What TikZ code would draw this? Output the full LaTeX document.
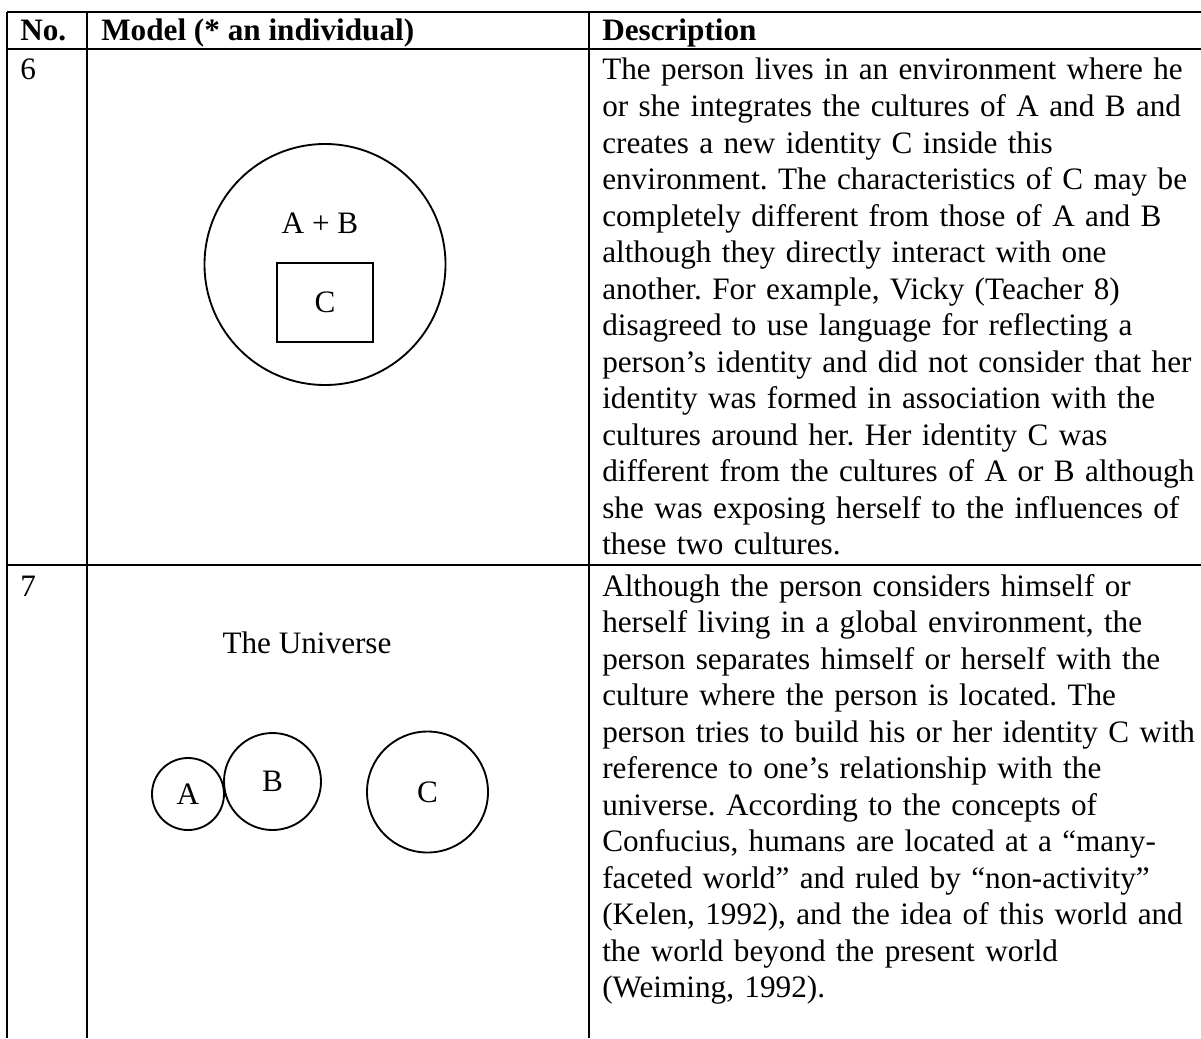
\documentclass[tikz,border=0pt]{standalone}
\usepackage{fontspec}
\setmainfont{Liberation Serif}

\newcommand{\bodyfont}{\fontsize{23.4pt}{27.4pt}\selectfont}

\tikzset{
  rule/.style={black, line width=1.1pt},
  headcell/.style={anchor=base west, inner sep=0pt, font=\bodyfont\bfseries},
  numcell/.style={anchor=base west, inner sep=0pt, font=\bodyfont},
  cell/.style={anchor=base west, inner sep=0pt, text width=480pt, align=left, font=\bodyfont},
  plain/.style={inner sep=0pt, font=\bodyfont},
  ring/.style={draw, circle, black, line width=1.4pt, inner sep=0pt, font=\bodyfont},
  corebox/.style={draw, rectangle, black, line width=1.4pt, inner sep=0pt, font=\bodyfont}
}

\begin{document}
\frenchspacing
\begin{tikzpicture}[x=0.75pt, y=-0.75pt]
  \useasboundingbox (0,0) rectangle (1201,1038);
  \draw [rule] (7,12) -- (1201,12);
  \draw [rule] (7,49) -- (1201,49);
  \draw [rule] (7,565) -- (1201,565);
  \draw [rule] (7,12) -- (7,1038);
  \draw [rule] (87,12) -- (87,1038);
  \draw [rule] (589,12) -- (589,1038);

  \node [headcell] (hno) at (20,41) {No.};
  \node [headcell] (hmodel) at (101,41) {Model (* an individual)};
  \node [headcell] (hdesc) at (602,41) {Description};

  \node [numcell] (no6) at (20,80) {6};
  \node [numcell] (no7) at (20,596) {7};

  \node [ring, minimum size=180.75pt] (env) at (325,264.5) {};
  \node [plain] (ab) at (320,223) {A + B};
  \node [corebox, minimum width=72pt, minimum height=59.25pt] (core) at (325,302.5) {C};

  \node [plain] (univ) at (307,643) {The Universe};
  \node [ring, minimum size=54pt] (ca) at (188,794) {A};
  \node [ring, minimum size=72.75pt] (cb) at (272.5,781.5) {B};
  \node [ring, minimum size=90.75pt] (cc) at (427.5,792) {C};

  \node [cell] (desc6) at (602,80) {The person lives in an environment where he\\
    or she integrates the cultures of A and B and\\
    creates a new identity C inside this\\
    environment. The characteristics of C may be\\
    completely different from those of A and B\\
    although they directly interact with one\\
    another. For example, Vicky (Teacher 8)\\
    disagreed to use language for reflecting a\\
    person’s identity and did not consider that her\\
    identity was formed in association with the\\
    cultures around her. Her identity C was\\
    different from the cultures of A or B although\\
    she was exposing herself to the influences of\\
    these two cultures.};

  \node [cell] (desc7) at (602,596) {Although the person considers himself or\\
    herself living in a global environment, the\\
    person separates himself or herself with the\\
    culture where the person is located. The\\
    person tries to build his or her identity C with\\
    reference to one’s relationship with the\\
    universe. According to the concepts of\\
    Confucius, humans are located at a “many-\\
    faceted world” and ruled by “non-activity”\\
    (Kelen, 1992), and the idea of this world and\\
    the world beyond the present world\\
    (Weiming, 1992).};
\end{tikzpicture}
\end{document}
